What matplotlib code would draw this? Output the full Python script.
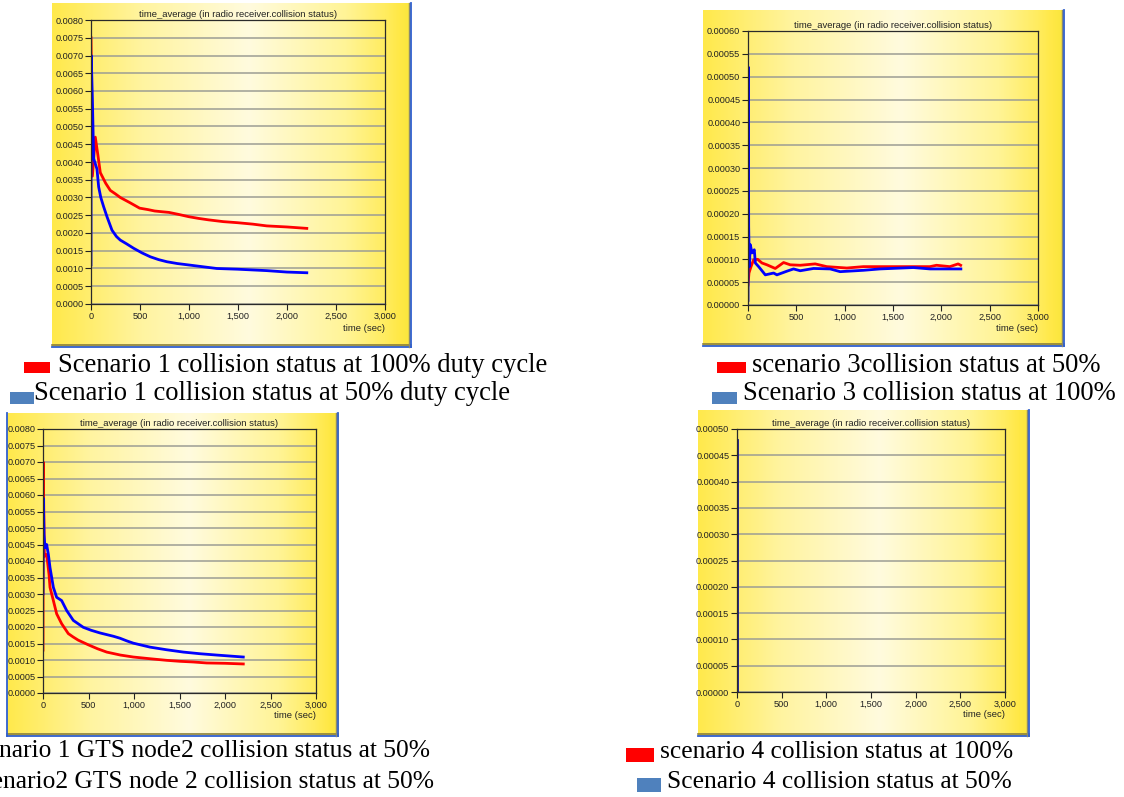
import numpy as np
import matplotlib
matplotlib.use("Agg")
import matplotlib.pyplot as plt
from matplotlib.patches import Rectangle
from matplotlib.lines import Line2D

W, H = 1124, 797

# Datos (tiempo en s, colision media)
s1_t_red = [0, 14, 44, 70, 95, 150, 197, 250, 299, 400, 496, 580, 650, 720, 796, 900, 996,
            1100, 1200, 1350, 1495, 1650, 1794, 2000, 2202]
s1_red = [0.0075, 0.0036, 0.0047, 0.0042, 0.0037, 0.0034, 0.0032, 0.0031, 0.0030, 0.00285,
          0.0027, 0.00266, 0.00262, 0.0026, 0.00258, 0.00252, 0.00246, 0.00241, 0.00237,
          0.00232, 0.00229, 0.00225, 0.0022, 0.00217, 0.00213]
s1_t_blue = [0, 2, 14, 27, 61, 78, 100, 129, 163, 214, 260, 299, 360, 435, 520, 605, 690, 775,
             880, 996, 1140, 1284, 1495, 1794, 1998, 2202]
s1_blue = [0.0011, 0.0070, 0.0058, 0.0041, 0.0038, 0.0033, 0.0030, 0.00274, 0.00246, 0.00208,
           0.0019, 0.0018, 0.0017, 0.00157, 0.00144, 0.00133, 0.00125, 0.00119, 0.00114,
           0.0011, 0.00105, 0.0010, 0.00098, 0.00094, 0.0009, 0.00088]

s3_t_red = [0, 10, 31, 58, 100, 144, 196, 282, 368, 437, 540, 695, 815, 1022, 1194, 1538, 1882,
            1950, 2088, 2174, 2200]
s3_red = [0.000044, 0.00007, 0.000084, 0.000099, 0.0001, 0.000092, 0.000088, 0.00008, 0.000093,
          0.000088, 0.000087, 0.00009, 0.000084, 0.000081, 0.000084, 0.000084, 0.000084,
          0.000087, 0.000084, 0.00009, 0.000087]
s3_t_blue = [0, 3, 7, 14, 24, 41, 65, 76, 110, 179, 265, 299, 402, 471, 540, 678, 850, 953,
             1194, 1366, 1710, 1882, 2054, 2202]
s3_blue = [0.00001, 0.000521, 0.000172, 0.000084, 0.000132, 0.000114, 0.000121, 0.000092,
           0.000084, 0.000066, 0.00007, 0.000066, 0.000074, 0.000079, 0.000075, 0.00008,
           0.000079, 0.000073, 0.000076, 0.000079, 0.000082, 0.000079, 0.000079, 0.000079]

gts_t_red = [0, 2, 15, 40, 66, 77, 114, 150, 205, 278, 330, 388, 498, 600, 700, 850, 993, 1170,
             1359, 1505, 1650, 1798, 2000, 2201]
gts_red = [0.0013, 0.0070, 0.00414, 0.0042, 0.0036, 0.0032, 0.0028, 0.0024, 0.0021, 0.0018,
           0.0017, 0.0016, 0.00146, 0.00134, 0.00124, 0.00115, 0.00109, 0.00104, 0.00099,
           0.00096, 0.00094, 0.00091, 0.0009, 0.00088]
gts_t_blue = [0, 4, 11, 22, 40, 59, 77, 114, 150, 205, 260, 333, 443, 530, 626, 773, 846, 920,
              993, 1176, 1359, 1542, 1725, 1908, 2201]
gts_blue = [0.0030, 0.0059, 0.0048, 0.0044, 0.0045, 0.0042, 0.0038, 0.0032, 0.0029, 0.0028,
            0.0025, 0.0022, 0.00199, 0.0019, 0.00182, 0.00172, 0.00166, 0.00158, 0.00151,
            0.00139, 0.00131, 0.00124, 0.00119, 0.00115, 0.00109]

s4_t_blue = [5, 5]
s4_blue = [0.0, 0.00048]

xticks = [0, 500, 1000, 1500, 2000, 2500, 3000]
xtick_labels = ["0", "500", "1,000", "1,500", "2,000", "2,500", "3,000"]
yticks_big = np.arange(0, 0.00801, 0.0005)
yticks_s3 = np.arange(0, 0.000601, 0.00005)
yticks_s4 = np.arange(0, 0.000501, 0.00005)

titulo = "time_average (in radio receiver.collision status)"

leyendas = [
    ("Scenario 1 collision status at 100% duty cycle", "Scenario 1 collision status at 50% duty cycle"),
    ("scenario 3collision status at 50%", "Scenario 3 collision status at 100%"),
    ("Scenario 1 GTS node2 collision status at 50%", "Scenario2 GTS node 2 collision status at 50%"),
    ("scenario 4 collision status at 100%", "Scenario 4 collision status at 50%"),
]

fig = plt.figure(figsize=(W / 100, H / 100), dpi=100)
fig.patch.set_facecolor("white")


def rect_fig(x0, y0, x1, y1):
    return [x0 / W, 1 - y1 / H, (x1 - x0) / W, (y1 - y0) / H]


def gradiente():
    pos = [0.0, 0.25, 0.55, 0.82, 0.93, 0.97, 1.0]
    r = [255, 255, 255, 255, 255, 255, 250]
    g = [233, 244, 251, 244, 236, 232, 230]
    b = [75, 160, 222, 150, 95, 70, 60]
    xs = np.linspace(0, 1, 300)
    img = np.stack([np.interp(xs, pos, r), np.interp(xs, pos, g), np.interp(xs, pos, b)], axis=-1) / 255
    return img[np.newaxis, :, :]


def panel(marco, area, yticks, yfmt, series, borde_izq=False):
    fx0, fy0, fx1, fy1 = marco
    bg = fig.add_axes(rect_fig(fx0, fy0, fx1, fy1), zorder=0)
    bg.imshow(gradiente(), extent=[0, 1, 0, 1], aspect="auto")
    bg.set_xlim(0, 1)
    bg.set_ylim(0, 1)
    bg.axis("off")
    # bordes del marco
    fig.add_artist(Line2D([fx0 / W, fx1 / W], [1 - (fy1 - 2) / H] * 2, color="#8a7f3a", lw=1.2))
    fig.add_artist(Line2D([fx0 / W, fx1 / W], [1 - fy1 / H] * 2, color="#2f5fd0", lw=1.3))
    fig.add_artist(Line2D([(fx1 - 2) / W] * 2, [1 - fy0 / H, 1 - fy1 / H], color="#8a8a70", lw=1.0))
    fig.add_artist(Line2D([fx1 / W] * 2, [1 - fy0 / H, 1 - fy1 / H], color="#2f5fd0", lw=1.3))
    if borde_izq:
        fig.add_artist(Line2D([fx0 / W] * 2, [1 - fy0 / H, 1 - fy1 / H], color="#2f5fd0", lw=1.3))

    ax = fig.add_axes(rect_fig(*area), zorder=1)
    ax.set_facecolor("none")
    for t, v, c in series:
        ax.plot(t, v, color=c, lw=2.0, solid_joinstyle="round")
    ax.set_xlim(0, 3000)
    ax.set_ylim(yticks[0], yticks[-1])
    ax.set_xticks(xticks)
    ax.set_xticklabels(xtick_labels)
    ax.set_yticks(yticks)
    ax.set_yticklabels([yfmt % v for v in yticks])
    ax.tick_params(direction="out", length=4, width=0.8, labelsize=6.6, pad=1.5, colors="#222222")
    for lab in ax.get_xticklabels() + ax.get_yticklabels():
        lab.set_family("Liberation Sans")
    ax.yaxis.grid(True, color="#9d9d94", lw=1.1)
    ax.set_axisbelow(True)
    for s in ax.spines.values():
        s.set_color("#2a2a2a")
        s.set_linewidth(0.9)
    ax.set_title(titulo, fontsize=6.8, pad=2, color="#222222", family="Liberation Sans")
    ax.text(1.0, -0.085, "time (sec)", transform=ax.transAxes, ha="right", va="center",
            fontsize=6.8, color="#222222", family="Liberation Sans")
    return ax


panel((52, 3, 411, 347), (91, 20, 385, 304), yticks_big, "%.4f",
      [(s1_t_red, s1_red, "#ff0000"), (s1_t_blue, s1_blue, "#0000ff")])
panel((703, 10, 1064, 346), (748, 31, 1038, 305), yticks_s3, "%.5f",
      [(s3_t_red, s3_red, "#ff0000"), (s3_t_blue, s3_blue, "#0000ff")])
panel((7, 413, 338, 736), (43, 429, 316, 693), yticks_big, "%.4f",
      [(gts_t_red, gts_red, "#ff0000"), (gts_t_blue, gts_blue, "#0000ff")], borde_izq=True)
panel((698, 410, 1029, 736), (737, 429, 1005, 692), yticks_s4, "%.5f",
      [(s4_t_blue, s4_blue, "#1010a0")])

# leyendas de texto (Times)
fuente = dict(family="Liberation Serif", fontsize=19.2, color="black", va="center")
fuente_baja = dict(fuente, fontsize=18.4)


def caja(x0, y0, x1, y1, color):
    fig.add_artist(Rectangle((x0 / W, 1 - y1 / H), (x1 - x0) / W, (y1 - y0) / H,
                             transform=fig.transFigure, color=color, lw=0))


caja(24, 362, 50, 373, "#ff0000")
fig.text(58 / W, 1 - 365 / H, leyendas[0][0], **fuente)
caja(10, 392, 34, 404, "#4f81bd")
fig.text(34 / W, 1 - 394 / H, leyendas[0][1], **fuente)

caja(717, 362, 746, 373, "#ff0000")
fig.text(752 / W, 1 - 365 / H, leyendas[1][0], **fuente)
caja(712, 392, 737, 404, "#4f81bd")
fig.text(743 / W, 1 - 394 / H, leyendas[1][1], **fuente)

# el texto de abajo a la izquierda sale cortado en el borde, como en el original
fig.text(430 / W, 1 - 751 / H, leyendas[2][0], ha="right", **fuente_baja)
fig.text(434 / W, 1 - 782 / H, leyendas[2][1], ha="right", **fuente_baja)

caja(626, 748, 654, 762, "#ff0000")
fig.text(660 / W, 1 - 752 / H, leyendas[3][0], **fuente_baja)
caja(637, 778, 661, 792, "#4f81bd")
fig.text(667 / W, 1 - 782 / H, leyendas[3][1], **fuente_baja)

fig.savefig("out.png", dpi=100)
